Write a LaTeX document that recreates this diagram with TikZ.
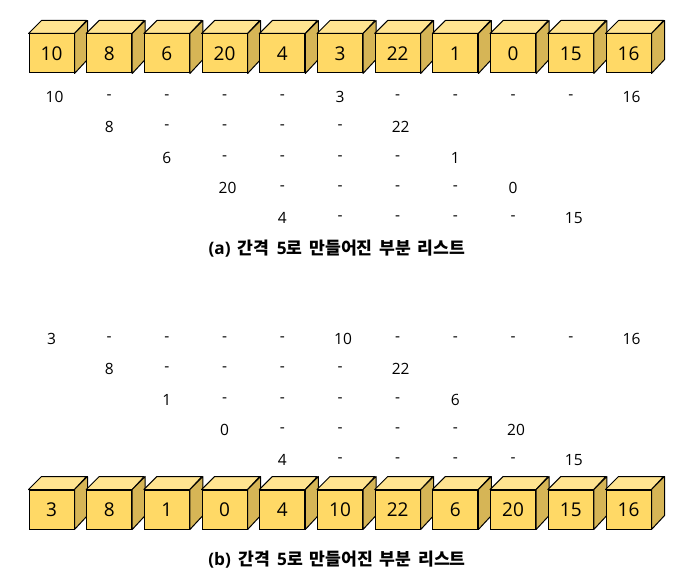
\documentclass[tikz,border=0pt]{standalone}
\usepackage{fontspec}
\setmainfont{Open Sans}
\newfontfamily\kr{Noto Sans CJK KR}
\definecolor{cubefront}{RGB}{255,217,102}
\definecolor{cubetop}{RGB}{255,228,145}
\definecolor{cubeside}{RGB}{214,181,86}
\tikzset{
  front/.style={draw=black, line width=1pt, fill=cubefront, minimum width=45pt, minimum height=39pt, inner sep=0pt, font=\fontsize{19}{21}\selectfont},
  topface/.style={draw=black, line width=1pt, fill=cubetop, line join=round},
  sideface/.style={draw=black, line width=1pt, fill=cubeside, line join=round},
  val/.style={inner sep=0pt, font=\fontsize{15.5}{17}\selectfont},
  caption/.style={inner sep=0pt, font=\bfseries\fontsize{17.2}{19}\selectfont},
}
\begin{document}
\begin{tikzpicture}[x=1pt,y=-1pt]
\useasboundingbox (0,0) rectangle (687,583);
% top cubes
\foreach \v [count=\i from 0] in {10,8,6,20,4,3,22,1,0,15,16}{
  \node[front] (t\i) at ({51.5+57.7*\i},53.5) {\v};
  \draw[topface] (t\i.north west) -- ++(13,-13) -- ++(45,0) -- (t\i.north east) -- cycle;
  \draw[sideface] (t\i.north east) -- ++(13,-13) -- ++(0,39) -- (t\i.south east) -- cycle;
}
% bottom cubes
\foreach \v [count=\i from 0] in {3,8,1,0,4,10,22,6,20,15,16}{
  \node[front] (b\i) at ({51.5+57.7*\i},509.5) {\v};
  \draw[topface] (b\i.north west) -- ++(13,-13) -- ++(45,0) -- (b\i.north east) -- cycle;
  \draw[sideface] (b\i.north east) -- ++(13,-13) -- ++(0,39) -- (b\i.south east) -- cycle;
}
% rows
\foreach \row/\y/\list in {
  1/97/{0/10/3,1/-/0,2/-/0,3/-/0,4/-/0,5/3/0,6/-/0,7/-/0,8/-/0,9/-/0,10/16/3},
  2/127/{1/8/0,2/-/0,3/-/0,4/-/0,5/-/0,6/22/3},
  3/158/{2/6/0,3/-/0,4/-/0,5/-/0,6/-/0,7/1/0},
  4/188/{3/20/3,4/-/0,5/-/0,6/-/0,7/-/0,8/0/0},
  5/218/{4/4/0,5/-/0,6/-/0,7/-/0,8/-/0,9/15/3},
  6/339/{0/3/0,1/-/0,2/-/0,3/-/0,4/-/0,5/10/3,6/-/0,7/-/0,8/-/0,9/-/0,10/16/3},
  7/369/{1/8/0,2/-/0,3/-/0,4/-/0,5/-/0,6/22/3},
  8/400/{2/1/0,3/-/0,4/-/0,5/-/0,6/-/0,7/6/0},
  9/430/{3/0/0,4/-/0,5/-/0,6/-/0,7/-/0,8/20/3},
  10/460/{4/4/0,5/-/0,6/-/0,7/-/0,8/-/0,9/15/3}}{
  \foreach \c/\t/\dx in \list {
    \node[val] (r\row c\c) at ({51.5+57.7*\c+\dx},\y) {\t};
  }
}
\node[caption] (capa) at (337,249) {(a)\, {\kr 간격}\, 5{\kr 로\, 만들어진\, 부분\, 리스트}};
\node[caption] (capb) at (337,560) {(b)\, {\kr 간격}\, 5{\kr 로\, 만들어진\, 부분\, 리스트}};
\end{tikzpicture}
\end{document}
